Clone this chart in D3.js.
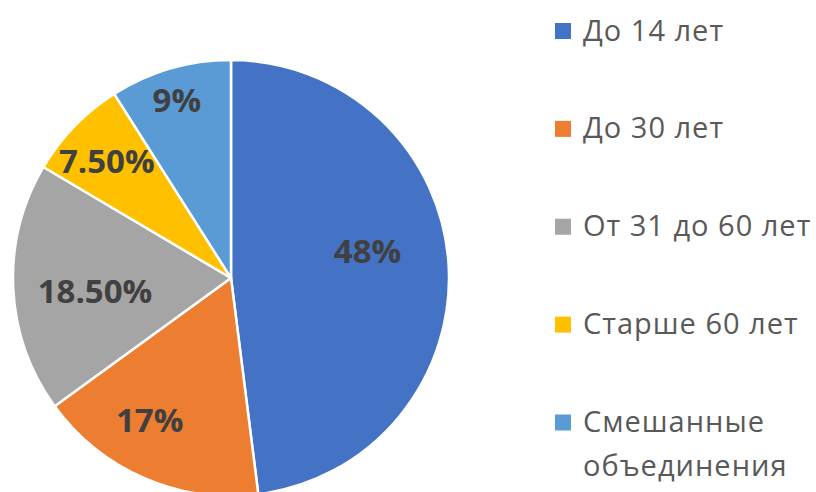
<!DOCTYPE html>
<html><head><meta charset="utf-8">
<script src="https://cdn.jsdelivr.net/npm/d3@7"></script>
<style>html,body{margin:0;padding:0;background:#fff;}</style>
</head><body><svg id="c" width="816" height="492"></svg>
<script>
const categories = ["До 14 лет", "До 30 лет", "От 31 до 60 лет", "Старше 60 лет", "Смешанные объединения"];
const values = [48, 17, 18.5, 7.5, 9];
const valueLabels = ["48%", "17%", "18.50%", "7.50%", "9%"];
const colors = ["#4472C4", "#ED7D31", "#A5A5A5", "#FFC000", "#5B9BD5"];
// label layout (radius fraction, angle shift in degrees) mimicking best-fit placement
const labelRadius = [0.639, 0.751, 0.627, 0.783, 0.855];
const labelShift = [-7.7, 6.4, -3.0, -0.8, -0.7];
const legendLines = [["До 14 лет"], ["До 30 лет"], ["От 31 до 60 лет"], ["Старше 60 лет"], ["Смешанные", "объединения"]];

const svg = d3.select("#c");
const cx = 231, cy = 278, R = 218;
const g = svg.append("g").attr("transform", `translate(${cx},${cy})`);
const pie = d3.pie().sort(null).value(d => d)(values);
const arc = d3.arc().innerRadius(0).outerRadius(R);
g.selectAll("path").data(pie).join("path")
  .attr("d", arc).attr("fill", (d, i) => colors[i])
  .attr("stroke", "#fff").attr("stroke-width", 2.5).attr("stroke-linejoin", "round");

g.selectAll("text.lbl").data(pie).join("text").attr("class", "lbl")
  .attr("x", (d, i) => { const a = (d.startAngle + d.endAngle) / 2 + labelShift[i] * Math.PI / 180; return R * labelRadius[i] * Math.sin(a); })
  .attr("y", (d, i) => { const a = (d.startAngle + d.endAngle) / 2 + labelShift[i] * Math.PI / 180; return -R * labelRadius[i] * Math.cos(a); })
  .attr("dy", "0.36em").attr("text-anchor", "middle")
  .attr("font-family", "'Open Sans', sans-serif").attr("font-weight", "bold")
  .attr("font-size", 33).attr("fill", "#404040")
  .text((d, i) => valueLabels[i]);

const legendY = d3.scalePoint().domain(d3.range(categories.length)).range([31, 422.5]);
const lg = svg.append("g");
const items = lg.selectAll("g").data(categories).join("g")
  .attr("transform", (d, i) => `translate(555,${legendY(i)})`);
items.append("rect").attr("x", 0).attr("y", -8).attr("width", 16).attr("height", 16)
  .attr("fill", (d, i) => colors[i]);
items.append("text").attr("x", 28).attr("y", 0)
  .attr("font-family", "'Open Sans', sans-serif").attr("font-size", 29).attr("fill", "#595959")
  .attr("letter-spacing", 1)
  .selectAll("tspan").data((d, i) => legendLines[i]).join("tspan")
  .attr("x", 28).attr("dy", (d, j) => j === 0 ? 9.5 : 44)
  .text(d => d);
</script></body></html>
